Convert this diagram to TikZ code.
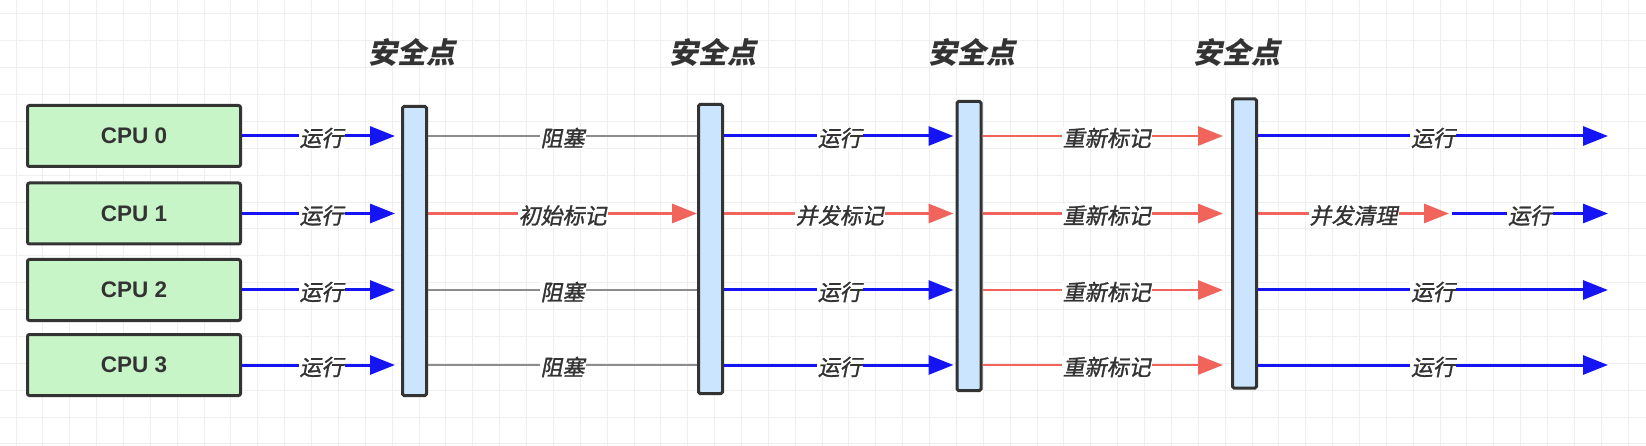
\documentclass[tikz,border=0pt]{standalone}
\usepackage{fontspec}
\usetikzlibrary{arrows.meta}
\newfontfamily\cjk[FakeSlant=0.2]{Noto Sans CJK SC}
\newfontfamily\cjkl[FakeSlant=0.2,FakeBold=1.3]{Noto Sans CJK SC}
\newfontfamily\cpufont{Liberation Sans}
\definecolor{gridc}{HTML}{EFEFEF}
\definecolor{txt}{HTML}{333333}
\definecolor{cpufill}{HTML}{C8F5C8}
\definecolor{barfill}{HTML}{CCE5FF}
\definecolor{runblue}{HTML}{1414F5}
\definecolor{markred}{HTML}{F0645C}
\definecolor{blockgray}{HTML}{8C8C8C}
\begin{document}
\begin{tikzpicture}[x=1pt,y=-1pt,
  cpubox/.style={draw=txt, line width=3pt, fill=cpufill, rounded corners=2pt,
    minimum width=213pt, minimum height=61pt, inner sep=0pt,
    font=\cpufont\bfseries\fontsize{22.5}{22.5}\selectfont, text=txt},
  sbar/.style={draw=txt, line width=3pt, fill=barfill, rounded corners=1.5pt,
    minimum width=24pt, minimum height=289pt, inner sep=0pt},
  sptitle/.style={font=\cjk\bfseries\fontsize{29}{29}\selectfont, text=txt, inner sep=0pt},
  lbl/.style={font=\cjkl\fontsize{22}{22}\selectfont, text=txt, fill=white, inner sep=1pt, yshift=-2pt},
  runarrow/.style={draw=runblue, line width=3pt, -{Triangle[length=25pt,width=19pt]}},
  redarrow/.style={draw=markred, line width=2.8pt, -{Triangle[length=25pt,width=19pt]}},
  blockline/.style={draw=blockgray, line width=2.2pt},
  gridline/.style={draw=gridc, line width=1pt}
]
\useasboundingbox (0,0) rectangle (1646,446);
\fill[white] (0,0) rectangle (1646,446);
% grid
\foreach \k in {0,...,60} { \draw[gridline] ({16+\k*26.87},0) -- ({16+\k*26.87},446); }
\foreach \k in {0,...,16} { \draw[gridline] (0,{14+\k*26.87}) -- (1646,{14+\k*26.87}); }

% CPU boxes
\node[cpubox] (cpu0) at (134,136) {CPU 0};
\node[cpubox] (cpu1) at (134,213.5) {CPU 1};
\node[cpubox] (cpu2) at (134,290) {CPU 2};
\node[cpubox] (cpu3) at (134,365) {CPU 3};

% safepoint bars
\node[sbar] (sp1) at (414.5,251) {};
\node[sbar] (sp2) at (710.5,249) {};
\node[sbar] (sp3) at (969,246) {};
\node[sbar] (sp4) at (1244.5,243.5) {};

% titles
\node[sptitle] (t1) at (412,52) {安全点};
\node[sptitle] (t2) at (713,52) {安全点};
\node[sptitle] (t3) at (972,52) {安全点};
\node[sptitle] (t4) at (1237,52) {安全点};

% end coordinates
\coordinate (e0) at (1608,0 |- cpu0);
\coordinate (e1) at (1608,0 |- cpu1);
\coordinate (e2) at (1608,0 |- cpu2);
\coordinate (e3) at (1608,0 |- cpu3);
\coordinate (s1a) at (1449,0 |- cpu1);
\coordinate (s1b) at (1452,0 |- cpu1);

% segment 1
\foreach \r in {0,1,2,3} {
  \draw[runarrow, shorten >=6pt] (cpu\r.east) -- (sp1.west |- cpu\r) node[lbl,midway] {运行};
}

% segment 2
\draw[blockline] (sp1.east |- cpu0) -- (sp2.west |- cpu0) node[lbl,midway] {阻塞};
\draw[redarrow] (sp1.east |- cpu1) -- (sp2.west |- cpu1) node[lbl,midway] {初始标记};
\draw[blockline] (sp1.east |- cpu2) -- (sp2.west |- cpu2) node[lbl,midway] {阻塞};
\draw[blockline] (sp1.east |- cpu3) -- (sp2.west |- cpu3) node[lbl,midway] {阻塞};

% segment 3
\draw[runarrow, shorten >=2pt] (sp2.east |- cpu0) -- (sp3.west |- cpu0) node[lbl,midway] {运行};
\draw[redarrow, shorten >=2pt] (sp2.east |- cpu1) -- (sp3.west |- cpu1) node[lbl,midway] {并发标记};
\draw[runarrow, shorten >=2pt] (sp2.east |- cpu2) -- (sp3.west |- cpu2) node[lbl,midway] {运行};
\draw[runarrow, shorten >=2pt] (sp2.east |- cpu3) -- (sp3.west |- cpu3) node[lbl,midway] {运行};

% segment 4
\foreach \r in {0,1,2,3} {
  \draw[redarrow, shorten >=8pt] (sp3.east |- cpu\r) -- (sp4.west |- cpu\r) node[lbl,midway] {重新标记};
}

% segment 5
\draw[runarrow] (sp4.east |- cpu0) -- (e0) node[lbl,midway] {运行};
\draw[redarrow] (sp4.east |- cpu1) -- (s1a) node[lbl,midway] {并发清理};
\draw[runarrow] (s1b) -- (e1) node[lbl,midway] {运行};
\draw[runarrow] (sp4.east |- cpu2) -- (e2) node[lbl,midway] {运行};
\draw[runarrow] (sp4.east |- cpu3) -- (e3) node[lbl,midway] {运行};
\end{tikzpicture}
\end{document}
